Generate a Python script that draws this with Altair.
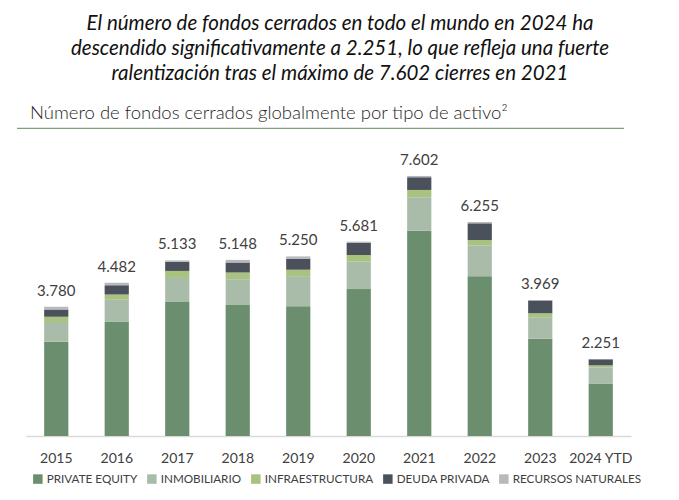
import altair as alt
import pandas as pd

FONT = "Lato"

years = ["2015", "2016", "2017", "2018", "2019", "2020", "2021", "2022", "2023", "2024 YTD"]
totals = [3780, 4482, 5133, 5148, 5250, 5681, 7602, 6255, 3969, 2251]
private_equity = [2757, 3348, 3917, 3830, 3794, 4295, 5999, 4673, 2846, 1538]
inmobiliario = [573, 636, 703, 753, 879, 800, 979, 900, 627, 469]
infraestructura = [158, 155, 205, 196, 188, 196, 214, 155, 117, 59]
deuda_privada = [213, 264, 264, 293, 322, 352, 372, 489, 369, 176]
recursos_naturales = [79, 79, 44, 76, 67, 38, 38, 38, 10, 9]

names = ["PRIVATE EQUITY", "INMOBILIARIO", "INFRAESTRUCTURA", "DEUDA PRIVADA", "RECURSOS NATURALES"]
colors = ["#6B8F6E", "#A8BCA9", "#A9C27F", "#4B515B", "#B7B9BD"]

title_lines = [
    "El número de fondos cerrados en todo el mundo en 2024 ha",
    "descendido significativamente a 2.251, lo que refleja una fuerte",
    "ralentización tras el máximo de 7.602 cierres en 2021",
]
subtitle_text = "Número de fondos cerrados globalmente por tipo de activo²"

series = [private_equity, inmobiliario, infraestructura, deuda_privada, recursos_naturales]
rows = []
for i, yr in enumerate(years):
    for k, (name, vals) in enumerate(zip(names, series)):
        rows.append({"year": yr, "tipo": name, "value": vals[i], "order": k})
df = pd.DataFrame(rows)

tot_df = pd.DataFrame({
    "year": years,
    "total": totals,
    "label": [f"{v:,}".replace(",", ".") for v in totals],
})

x_enc = alt.X(
    "year:N",
    sort=years,
    scale=alt.Scale(paddingInner=0.6, paddingOuter=0.3),
    axis=alt.Axis(
        title=None, labelAngle=0, ticks=False, tickSize=0, labelPadding=15,
        labelFontSize=14, labelColor="#404040", labelFont=FONT,
        domainColor="#D9D9D9", domainWidth=1.5, grid=False,
    ),
)

bars = alt.Chart(df).mark_bar().encode(
    x=x_enc,
    y=alt.Y("value:Q", stack="zero", scale=alt.Scale(domain=[0, 8360], nice=False), axis=None),
    color=alt.Color(
        "tipo:N",
        sort=names,
        scale=alt.Scale(domain=names, range=colors),
        legend=alt.Legend(
            title=None, orient="none", legendX=6, legendY=323, direction="horizontal",
            columns=5, symbolType="square", symbolSize=90, symbolStrokeWidth=0,
            labelFont=FONT, labelFontSize=11.7, labelColor="#404040",
            columnPadding=8, labelOffset=3,
        ),
    ),
    order=alt.Order("order:Q", sort="ascending"),
)

total_text = alt.Chart(tot_df).mark_text(
    dy=-11, baseline="alphabetic", fontSize=15, color="#404040", font=FONT
).encode(
    x=alt.X("year:N", sort=years),
    y=alt.Y("total:Q"),
    text="label:N",
)


def text_layer(s, x, y, **kw):
    return alt.Chart(pd.DataFrame({"t": [s]})).mark_text(**kw).encode(
        x=alt.value(x), y=alt.value(y), text="t:N"
    )


TS = dict(align="center", baseline="alphabetic", font=FONT, fontSize=20.5,
          fontStyle="italic", color="#111111")
t1 = text_layer(title_lines[0], 314, -120, **TS)
t2 = text_layer(title_lines[1], 314, -95, **TS)
t3 = text_layer(title_lines[2], 314, -70, **TS)
sub = text_layer(subtitle_text, 4, -31.5, align="left", baseline="alphabetic",
                 font=FONT, fontSize=18.5, fontWeight=300, color="#262626")

rule = alt.Chart(pd.DataFrame({"a": [0]})).mark_rule(color="#7FA07F", strokeWidth=1.3).encode(
    x=alt.value(-9), x2=alt.value(598), y=alt.value(-21.7)
)

chart = alt.layer(bars, total_text, t1, t2, t3, sub, rule).properties(
    width=605,
    height=286,
    autosize=alt.AutoSizeParams(type="none"),
    padding={"left": 18, "top": 142, "right": 30, "bottom": 50},
    background="white",
).configure_view(strokeWidth=0)

chart.save("out.html", embed_options={"renderer": "svg", "actions": False})
